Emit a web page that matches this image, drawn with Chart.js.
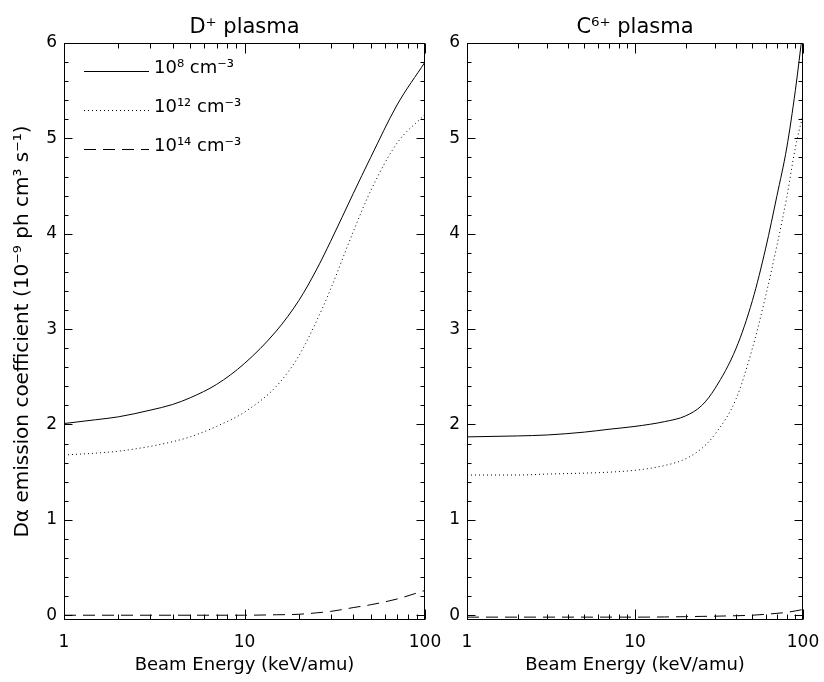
<!DOCTYPE html>
<html>
<head>
<meta charset="utf-8">
<script src="https://cdn.jsdelivr.net/npm/chart.js@4.4.1/dist/chart.umd.min.js"></script>
<style>
  html, body { margin: 0; padding: 0; background: #fff; }
  #wrap { position: relative; width: 824px; height: 682px; }
  #wrap canvas { position: absolute; left: 0; top: 0; }
</style>
</head>
<body>
<div id="wrap">
  <canvas id="leftChart" width="824" height="682"></canvas>
  <canvas id="rightChart" width="824" height="682"></canvas>
</div>
<script>
// === data ===

const energyD = [1, 1.5, 2, 3, 4, 5, 7, 10, 15, 20, 25, 30, 40, 50, 70, 100];
const dPlasma1e8  = [2.01, 2.05, 2.08, 2.15, 2.21, 2.28, 2.42, 2.64, 2.98, 3.3, 3.62, 3.92, 4.42, 4.8, 5.35, 5.8];
const dPlasma1e12 = [1.68, 1.70, 1.72, 1.77, 1.82, 1.87, 1.98, 2.13, 2.4, 2.72, 3.08, 3.42, 4.02, 4.45, 4.95, 5.25];
const dPlasma1e14 = [0.0, 0.0, 0.0, 0.0, 0.0, 0.0, 0.0, 0.0, 0.005, 0.01, 0.025, 0.04, 0.08, 0.11, 0.17, 0.26];

const energyC = [1, 2, 3, 5, 7, 10, 15, 20, 25, 30, 40, 50, 60, 70, 80, 90, 100];
const cPlasma1e8  = [1.87, 1.88, 1.89, 1.92, 1.95, 1.98, 2.03, 2.09, 2.2, 2.38, 2.8, 3.3, 3.85, 4.4, 4.9, 5.5, 6.15];
const cPlasma1e12 = [1.47, 1.47, 1.48, 1.49, 1.50, 1.52, 1.57, 1.64, 1.75, 1.9, 2.27, 2.8, 3.35, 3.88, 4.38, 4.9, 5.25];
const cPlasma1e14 = [-0.02, -0.02, -0.02, -0.02, -0.02, -0.02, -0.018, -0.015, -0.012, -0.01, -0.005, 0.0, 0.01, 0.02, 0.03, 0.045, 0.06];

const densityLabels = ["10\u2078 cm\u207B\u00B3", "10\u00B9\u00B2 cm\u207B\u00B3", "10\u00B9\u2074 cm\u207B\u00B3"];
const panelTitles = ["D\u207A plasma", "C\u2076\u207A plasma"];
const xTickValues = [1, 10, 100];
const yTickValues = [0, 1, 2, 3, 4, 5, 6];
const yLabel = "D\u03B1 emission coefficient (10\u207B\u2079 ph cm\u00B3 s\u207B\u00B9)";
const xLabel = "Beam Energy (keV/amu)";

const FONT = '"DejaVu Sans", sans-serif';
const lineStyles = [[], [1, 3], [12, 7]];

// === helpers ===

function toPoints(xs, ys) {
  return xs.map((x, i) => ({ x, y: ys[i] }));
}

function makeDatasets(xs, series) {
  return series.map((ys, i) => ({
    label: densityLabels[i],
    data: toPoints(xs, ys),
    borderColor: "#000",
    borderWidth: 1,
    borderDash: lineStyles[i],
    pointRadius: 0,
    fill: false,
    cubicInterpolationMode: "monotone",
  }));
}

// frame, inward ticks, panel title and in-plot legend (IDL look)
const idlFrame = {
  id: "idlFrame",
  afterDraw(chart, args, opts) {
    const { ctx, chartArea: a, scales } = chart;
    const xs = scales.x, ys = scales.y;
    const L = Math.round(a.left) + 0.5, R = Math.round(a.right) - 0.5;
    const T = Math.round(a.top) + 0.5, B = Math.round(a.bottom) - 0.5;
    ctx.save();
    ctx.strokeStyle = "#000";
    ctx.lineWidth = 1;
    ctx.setLineDash([]);
    ctx.strokeRect(L, T, R - L, B - T);

    ctx.beginPath();
    // x ticks, log decades
    for (const d of [1, 10]) {
      for (let k = 1; k <= 10; k++) {
        const v = d * k;
        if (k === 10 && d === 1) continue;
        const major = k === 1 || v === 100;
        const len = major ? 10 : 5;
        const px = Math.round(xs.getPixelForValue(v)) + 0.5;
        ctx.moveTo(px, B); ctx.lineTo(px, B - len);
        ctx.moveTo(px, T); ctx.lineTo(px, T + len);
      }
    }
    // y ticks every 0.2
    for (let i = 0; i <= 30; i++) {
      const v = i * 0.2;
      const major = i % 5 === 0;
      const len = major ? 8 : 4;
      const py = Math.round(ys.getPixelForValue(v)) + 0.5;
      ctx.moveTo(L, py); ctx.lineTo(L + len, py);
      ctx.moveTo(R, py); ctx.lineTo(R - len, py);
    }
    ctx.stroke();

    // panel title
    ctx.fillStyle = "#000";
    ctx.font = "21px " + FONT;
    ctx.textAlign = "center";
    ctx.textBaseline = "alphabetic";
    ctx.fillText(opts.title, (a.left + a.right) / 2, 33);

    // legend inside the plot
    if (opts.legend) {
      ctx.font = "18px " + FONT;
      ctx.textAlign = "left";
      chart.data.datasets.forEach((ds, i) => {
        const y = Math.round(a.top + 28 + i * 39) + 0.5;
        ctx.setLineDash(ds.borderDash);
        ctx.beginPath();
        ctx.moveTo(a.left + 20, y);
        ctx.lineTo(a.left + 85, y);
        ctx.stroke();
        ctx.fillText(ds.label, a.left + 90, y + 1);
      });
    }
    ctx.restore();
  },
};

function makeChart(id, xs, series, cfg) {
  return new Chart(document.getElementById(id), {
    type: "line",
    data: { datasets: makeDatasets(xs, series) },
    plugins: [idlFrame],
    options: {
      responsive: false,
      animation: false,
      events: [],
      layout: { padding: cfg.padding },
      plugins: {
        legend: { display: false },
        tooltip: { enabled: false },
        idlFrame: { title: cfg.title, legend: cfg.legend },
      },
      scales: {
        x: {
          type: "logarithmic",
          min: 1,
          max: 100,
          grid: { display: false, drawTicks: false },
          border: { display: false },
          afterBuildTicks: (s) => { s.ticks = xTickValues.map((v) => ({ value: v })); },
          afterFit: (s) => { s.height = 62; s.paddingLeft = 0; s.paddingRight = 0; },
          ticks: {
            color: "#000",
            font: { family: FONT, size: 17 },
            padding: 12,
            maxRotation: 0,
            autoSkip: false,
            callback: (v) => String(v),
          },
          title: {
            display: true,
            text: xLabel,
            color: "#000",
            font: { family: FONT, size: 18 },
            padding: { top: 4, bottom: 6 },
          },
        },
        y: {
          min: -0.05,
          max: 6,
          grid: { display: false, drawTicks: false },
          border: { display: false },
          afterBuildTicks: (s) => { s.ticks = yTickValues.map((v) => ({ value: v })); },
          afterFit: (s) => { s.width = cfg.yWidth; s.paddingTop = 0; s.paddingBottom = 0; },
          ticks: {
            color: "#000",
            font: { family: FONT, size: 17 },
            padding: 7,
            callback: (v) => String(v),
          },
          title: {
            display: cfg.yTitle,
            text: yLabel,
            color: "#000",
            font: { family: FONT, size: 20 },
            padding: { top: 11, bottom: 0 },
          },
        },
      },
    },
  });
}

// === boot ===

makeChart("leftChart", energyD, [dPlasma1e8, dPlasma1e12, dPlasma1e14], {
  padding: { left: 0, right: 399, top: 43, bottom: 0 },
  yWidth: 64,
  yTitle: true,
  title: panelTitles[0],
  legend: true,
});

makeChart("rightChart", energyC, [cPlasma1e8, cPlasma1e12, cPlasma1e14], {
  padding: { left: 440, right: 21, top: 43, bottom: 0 },
  yWidth: 27,
  yTitle: false,
  title: panelTitles[1],
  legend: false,
});
</script>
</body>
</html>
